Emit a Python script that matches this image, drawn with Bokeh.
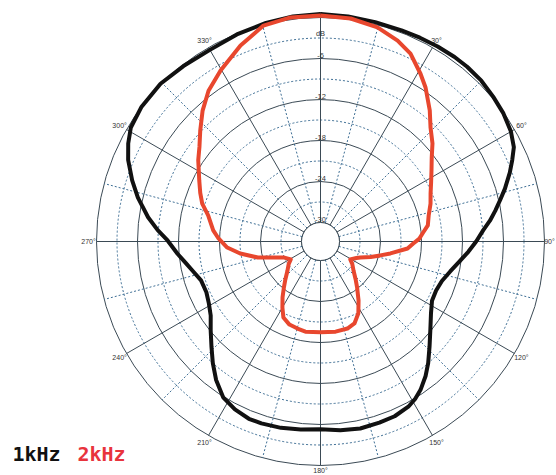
import numpy as np
from bokeh.plotting import figure
from bokeh.models import Range1d
from bokeh.core.properties import value
from bokeh.embed import file_html
from bokeh.resources import INLINE

# ---------------- data ----------------
db_ring_levels = [0, -3, -6, -9, -12, -15, -18, -21, -24, -27, -30]
db_label_levels = [0, -3, -6, -12, -18, -24, -30]
db_label_texts = ["0", "dB", "-6", "-12", "-18", "-24", "-30"]
angle_label_deg = [30, 60, 90, 120, 150, 180, 210, 240, 270, 300, 330]
angle_label_texts = ["30°", "60°", "90°", "120°", "150°", "180°", "210°", "240°", "270°", "300°", "330°"]

series_names = ["1kHz", "2kHz"]

k1_angle = [0, 7, 14, 21, 26, 31, 36, 40, 45, 50, 55, 60, 64, 67, 70, 74, 77, 80, 83, 86, 90, 94, 98,
            103, 108, 113, 118, 123, 129, 134, 138.5, 142, 146, 149, 152, 157, 162, 168, 174, 180,
            186, 192, 198, 202, 207, 212, 217, 221.5, 226, 231, 236, 241, 246, 252, 257, 261, 265,
            270.4, 274, 278, 283.5, 288, 293, 297, 301, 307, 314.6, 322, 330, 338, 346, 353, 360]
k1_db = [0.5, 0.4, 0.3, 0.3, 0.4, 0.5, 0.6, 0.6, 0.5, 0.2, -0.1, -0.6, -1.3, -2.3, -3.3, -4.7, -5.8, -6.8, -7.8,
         -8.9, -10.0, -11.1, -12.2, -13.3, -14.1, -14.4, -14.3, -13.5, -12.1, -10.6, -9.0, -7.8, -6.6, -5.9,
         -5.4, -5.0, -4.9, -4.8, -5.0, -5.3, -5.1, -4.9, -4.8, -4.8, -5.2, -5.9, -7.4, -9.0, -10.6, -12.1,
         -13.4, -14.1, -14.5, -14.4, -13.6, -12.8, -11.8, -10.4, -8.9, -7.3, -5.3, -3.8, -2.2, -1.2, -0.4,
         0.0, 0.1, -0.2, -0.4, -0.1, 0.2, 0.4, 0.5]

k2_angle = [0, 7.7, 14.9, 21, 25.6, 30.8, 34.3, 39.8, 44, 48.8, 53, 57.4, 62, 66.4, 71, 76.5, 81.5, 85,
            88.3, 91.2, 94.6, 99.7, 103.1, 107.2, 111.8, 114.6, 121, 125.1, 131.3, 137.7, 141.4, 147.2,
            152.2, 157.5, 162.8, 170.5, 180, 189.5, 194.8, 200.5, 206, 209.9, 214.2, 218.6, 222.3,
            228.7, 234.9, 239, 246, 252.3, 255.7, 261.5, 266.3, 271.7, 275.9, 283.1, 287.8, 292,
            296.8, 303.6, 308, 312.8, 318, 323.4, 329.7, 337.8, 345.2, 352.4, 360]
k2_db = [0.3, 0.15, -0.35, -1.3, -2.3, -4.2, -5.5, -7.8, -9.6, -11.0, -12.4, -13.5, -14.45, -15.2, -15.75,
         -16.5, -16.9, -17.7, -18.3, -19.2, -20.0, -22.4, -23.8, -25.1, -26.5, -27.0, -27.7, -27.1, -26.35,
         -25.1, -24.2, -22.5, -20.9, -19.8, -19.45, -19.4, -19.5, -19.4, -19.6, -19.8, -20.4, -21.6, -22.9,
         -24.2, -25.1, -26.35, -27.1, -27.7, -27.0, -25.1, -23.3, -20.9, -19.1, -17.85, -17.0, -15.9,
         -14.6, -13.8, -12.9, -11.3, -10.3, -8.8, -7.0, -5.3, -3.8, -1.8, -0.1, 0.3, 0.3]

# ---------------- geometry / style ----------------
DB_MIN, DB_MAX = -30.0, 0.0
R_HOLE, R_OUT = 19.0, 224.0
SOLID = "#3b4a55"
DOTTED = "#3f6f95"
BLACK = "#111111"
RED = "#e8472e"
RED_TXT = "#e8343c"


def rad(db):
    return R_HOLE + (np.asarray(db, dtype=float) - DB_MIN) * (R_OUT - R_HOLE) / (DB_MAX - DB_MIN)


def xy(ang_deg, r):
    a = np.radians(np.asarray(ang_deg, dtype=float))
    return r * np.sin(a), r * np.cos(a)


W, H = 556, 475
CX, CY = 320, 241
p = figure(width=W, height=H, output_backend="svg", toolbar_location=None,
           x_range=Range1d(-CX, W - CX), y_range=Range1d(-(H - CY), CY), min_border=0)
p.axis.visible = False
p.grid.visible = False
p.outline_line_color = None
p.background_fill_color = "white"
p.border_fill_color = "white"

# rings
solid_levels = [d for d in db_ring_levels if d % 6 == 0]
dot_levels = [d for d in db_ring_levels if d % 6 != 0]
p.circle(x=[0] * len(dot_levels), y=[0] * len(dot_levels), radius=list(rad(dot_levels)),
         fill_color=None, line_color=DOTTED, line_dash="2 2", line_width=1)
p.circle(x=[0] * len(solid_levels), y=[0] * len(solid_levels), radius=list(rad(solid_levels)),
         fill_color=None, line_color=SOLID, line_width=1)

# radial lines
solid_ang = list(range(0, 360, 30))
dot_ang = list(range(15, 360, 30))
x0, y0 = xy(dot_ang, R_HOLE)
x1, y1 = xy(dot_ang, R_OUT)
p.segment(x0=x0, y0=y0, x1=x1, y1=y1, line_color=DOTTED, line_dash="2 2", line_width=1)
x0, y0 = xy(solid_ang, R_HOLE)
x1, y1 = xy(solid_ang, R_OUT)
p.segment(x0=x0, y0=y0, x1=x1, y1=y1, line_color=SOLID, line_width=1)

# hole
p.circle(x=[0], y=[0], radius=[R_HOLE], fill_color="white", line_color=SOLID, line_width=1)

# labels
p.text(x=[0] * len(db_label_levels), y=list(rad(db_label_levels) + 0.5), text=db_label_texts,
       text_font=value("Liberation Sans"), text_font_size="7.5px", text_align="center",
       text_baseline="bottom", text_color="#333333")
lab_r = np.array([229.0 if a in (90, 180) else 232.0 for a in angle_label_deg])
lx, ly = xy(angle_label_deg, lab_r)
p.text(x=lx, y=ly, text=angle_label_texts, text_font=value("Liberation Sans"), text_font_size="7px",
       text_align="center", text_baseline="middle", text_color="#333333")

# curves
bx, by = xy(k1_angle, rad(k1_db))
p.line(bx, by, line_color=BLACK, line_width=4, line_join="round")
rx, ry = xy(k2_angle, rad(k2_db))
p.line(rx, ry, line_color=RED, line_width=4, line_join="round")

# legend texts
p.text(x=[-308], y=[-212], text=[series_names[0]], text_font=value("DejaVu Sans Mono"),
       text_font_style="bold", text_font_size="20px", text_color=BLACK, text_baseline="alphabetic")
p.text(x=[-243], y=[-212], text=[series_names[1]], text_font=value("DejaVu Sans Mono"),
       text_font_style="bold", text_font_size="20px", text_color=RED_TXT, text_baseline="alphabetic")

open("out.html", "w").write(file_html(p, INLINE))
